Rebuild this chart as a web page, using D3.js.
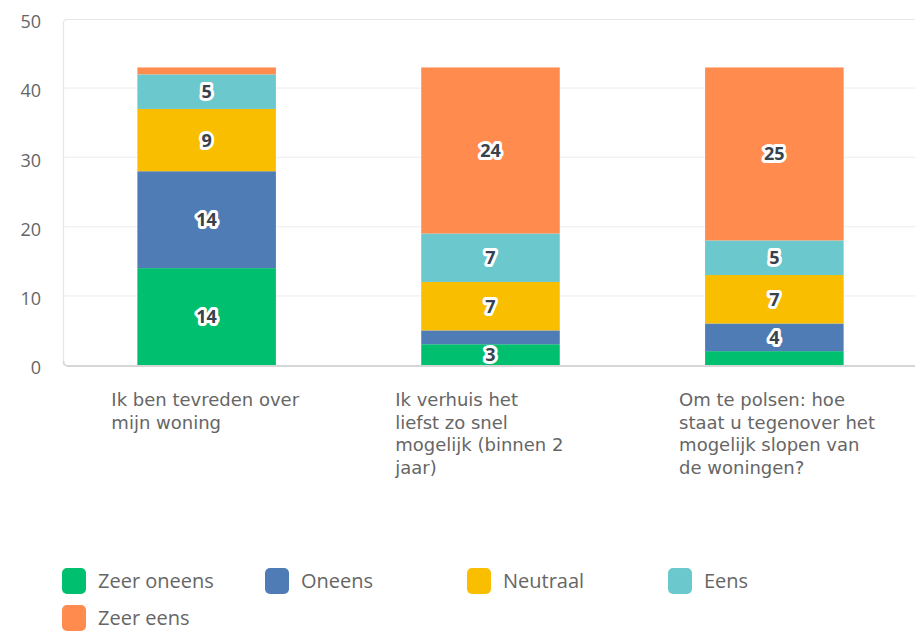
<!DOCTYPE html>
<html>
<head>
<meta charset="utf-8">
<script src="https://cdn.jsdelivr.net/npm/d3@7"></script>
<style>
  body { margin: 0; background: #fff; }
  svg { display: block; }
  text { font-family: "Open Sans", "Noto Sans", sans-serif; }
</style>
</head>
<body>
<svg id="chart" width="915" height="631"></svg>
<script>
// ---- data ----
const categories = [
  "Ik ben tevreden over mijn woning",
  "Ik verhuis het liefst zo snel mogelijk (binnen 2 jaar)",
  "Om te polsen: hoe staat u tegenover het mogelijk slopen van de woningen?"
];
const categoryLines = [
  ["Ik ben tevreden over", "mijn woning"],
  ["Ik verhuis het", "liefst zo snel", "mogelijk (binnen 2", "jaar)"],
  ["Om te polsen: hoe", "staat u tegenover het", "mogelijk slopen van", "de woningen?"]
];
const seriesNames = ["Zeer oneens", "Oneens", "Neutraal", "Eens", "Zeer eens"];
const zeerOneens = [14, 3, 2];
const oneens     = [14, 2, 4];
const neutraal   = [9, 7, 7];
const eens       = [5, 7, 5];
const zeerEens   = [1, 24, 25];
const colors = ["#00bf6f", "#507cb6", "#f9be00", "#6bc8cd", "#ff8b4f"];
const yTicks = [0, 10, 20, 30, 40, 50];
const labelMin = 3; // values below this are not labelled

const seriesValues = [zeerOneens, oneens, neutraal, eens, zeerEens];
const rows = categories.map((c, i) => {
  const r = { category: c };
  seriesNames.forEach((s, k) => r[s] = seriesValues[k][i]);
  return r;
});

// ---- layout ----
const svg = d3.select("#chart");
const pL = 63, pR = 918, pT = 19, pB = 365;

const x = d3.scaleBand().domain(categories).range([pL, pR])
  .paddingInner(0.512).paddingOuter(0.262);
const y = d3.scaleLinear().domain([0, 50]).range([pB, pT]);
const color = d3.scaleOrdinal().domain(seriesNames).range(colors);

// gridlines
svg.append("g").selectAll("line").data(yTicks.filter(t => t > 0 && t < 50)).join("line")
  .attr("x1", pL).attr("x2", 915)
  .attr("y1", d => y(d)).attr("y2", d => y(d))
  .attr("stroke", "#f0f0f0").attr("stroke-width", 1.2);

// frame (left + top)
svg.append("path")
  .attr("d", `M${pL + 0.5},${pB} L${pL + 0.5},${pT + 4} Q${pL + 0.5},${pT + 0.5} ${pL + 4},${pT + 0.5} L915,${pT + 0.5}`)
  .attr("fill", "none").attr("stroke", "#e6e6e6").attr("stroke-width", 1.2);

// y axis labels
const yAxis = d3.axisLeft(y).tickValues(yTicks).tickSize(0).tickPadding(0);
const gy = svg.append("g").attr("transform", `translate(41,0)`).call(yAxis);
gy.select(".domain").remove();
gy.selectAll("text")
  .style("font-family", "'Open Sans', sans-serif")
  .attr("font-size", 18).attr("fill", "#666").attr("dy", "0.48em");

// stacked bars
const stack = d3.stack().keys(seriesNames);
const layers = stack(rows);

const gBars = svg.append("g");
gBars.selectAll("g").data(layers).join("g")
  .attr("fill", d => color(d.key))
  .selectAll("rect").data(d => d).join("rect")
  .attr("x", d => x(d.data.category))
  .attr("width", x.bandwidth())
  .attr("y", d => y(d[1]))
  .attr("height", d => y(d[0]) - y(d[1]));

// bottom axis line
svg.append("path")
  .attr("d", `M${pL + 4},${pB + 1} L915,${pB + 1}`)
  .attr("stroke", "#d6d6d6").attr("stroke-width", 2).attr("fill", "none");
svg.append("path")
  .attr("d", `M${pL + 0.5},${pB - 4} Q${pL + 0.5},${pB + 1} ${pL + 5},${pB + 1}`)
  .attr("stroke", "#d6d6d6").attr("stroke-width", 1.5).attr("fill", "none");

// value labels
const labelData = [];
layers.forEach(layer => layer.forEach(d => {
  const v = d[1] - d[0];
  if (v >= labelMin) labelData.push({ cat: d.data.category, mid: (d[0] + d[1]) / 2, v });
}));
const gLab = svg.append("g");
gLab.selectAll("text.halo").data(labelData).join("text")
  .attr("x", d => x(d.cat) + x.bandwidth() / 2)
  .attr("y", d => y(d.mid))
  .attr("dy", "0.36em")
  .attr("text-anchor", "middle")
  .attr("font-size", 18).attr("font-weight", 700)
  .attr("fill", "#fff").attr("stroke", "#fff").attr("stroke-width", 6)
  .attr("stroke-linejoin", "round")
  .text(d => d.v);
gLab.selectAll("text.val").data(labelData).join("text")
  .attr("x", d => x(d.cat) + x.bandwidth() / 2)
  .attr("y", d => y(d.mid))
  .attr("dy", "0.36em")
  .attr("text-anchor", "middle")
  .attr("font-size", 18).attr("font-weight", 700)
  .attr("fill", "#38424c")
  .text(d => d.v);

// category labels
const gX = svg.append("g");
categories.forEach((c, i) => {
  const t = gX.append("text")
    .attr("x", x(c) - 26)
    .attr("y", 406)
    .style("font-family", "'DejaVu Sans', sans-serif")
    .attr("font-size", 18).attr("fill", "#666");
  categoryLines[i].forEach((line, j) => {
    t.append("tspan").attr("x", x(c) - 26).attr("y", 406 + j * 22.5).text(line);
  });
});

// legend
const legendPos = [[62, 568], [265, 568], [467, 568], [668, 568], [62, 605]];
const gL = svg.append("g");
seriesNames.forEach((s, i) => {
  const [lx, ly] = legendPos[i];
  gL.append("rect").attr("x", lx).attr("y", ly).attr("width", 24).attr("height", 26)
    .attr("rx", 5).attr("fill", color(s));
  gL.append("text").attr("x", lx + 36).attr("y", ly + 13).attr("dy", "0.36em")
    .attr("font-size", 20).attr("fill", "#666").text(s);
});
</script>
</body>
</html>
